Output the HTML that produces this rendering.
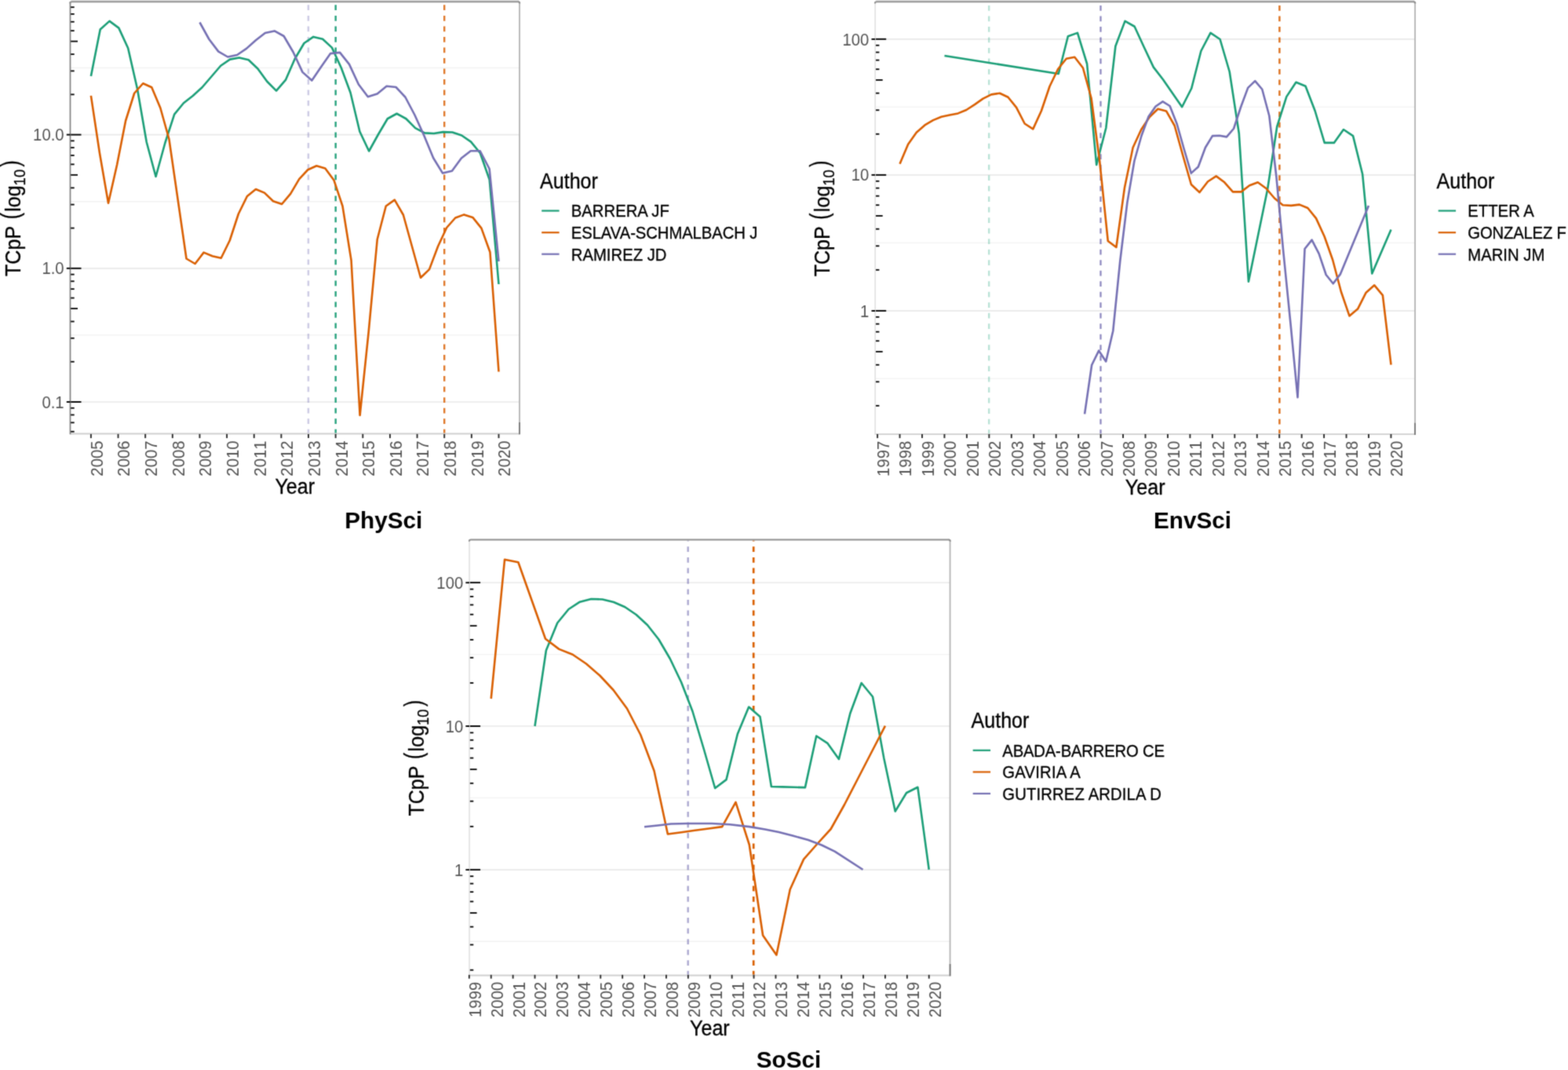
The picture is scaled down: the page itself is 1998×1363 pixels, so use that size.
<!DOCTYPE html>
<html lang="en"><head><meta charset="utf-8"><title>TCpP per author</title>
<style>html,body{margin:0;padding:0;background:#fff;}body{width:1998px;height:1363px;overflow:hidden;}svg{display:block;font-family:"Liberation Sans", "DejaVu Sans", sans-serif;font-kerning:normal;}</style></head><body>
<svg xmlns="http://www.w3.org/2000/svg" width="1998" height="1363" viewBox="0 0 1998 1363">
<defs><filter id="soft" x="0" y="0" width="1998" height="1363" filterUnits="userSpaceOnUse" color-interpolation-filters="sRGB"><feConvolveMatrix order="3" kernelMatrix="1 4 1 4 16 4 1 4 1" edgeMode="duplicate" preserveAlpha="true"/></filter></defs>
<g filter="url(#soft)">
<rect x="0" y="0" width="1998" height="1363" fill="#fff"/>
<g><line x1="89.5" x2="662" y1="256.7" y2="256.7" stroke="#f2f2f2" stroke-width="1.4"/>
<line x1="89.5" x2="662" y1="426.9" y2="426.9" stroke="#f2f2f2" stroke-width="1.4"/>
<line x1="89.5" x2="662" y1="86.5" y2="86.5" stroke="#f2f2f2" stroke-width="1.4"/>
<line x1="89.5" x2="662" y1="171.6" y2="171.6" stroke="#e9e9e9" stroke-width="1.7"/>
<line x1="89.5" x2="662" y1="341.8" y2="341.8" stroke="#e9e9e9" stroke-width="1.7"/>
<line x1="89.5" x2="662" y1="512" y2="512" stroke="#e9e9e9" stroke-width="1.7"/>
<line x1="392.9" x2="392.9" y1="553.4" y2="3.25" stroke="#7570b3" stroke-opacity="0.36" stroke-width="2.5" stroke-dasharray="6.75 6.757" stroke-dashoffset="0"/>
<line x1="427.7" x2="427.7" y1="553.4" y2="3.25" stroke="#1b9e77" stroke-opacity="0.95" stroke-width="2.4" stroke-dasharray="6.75 6.757" stroke-dashoffset="0"/>
<line x1="566.2" x2="566.2" y1="553.4" y2="3.25" stroke="#d95f02" stroke-opacity="0.85" stroke-width="2.4" stroke-dasharray="6.75 6.757" stroke-dashoffset="0"/>
<polyline points="115.9,97 127.71,37.5 139.52,26.9 151.33,35.6 163.14,61.3 174.95,113 186.75,181 198.56,225 210.37,182 222.18,145.6 233.99,131.2 245.8,122 257.61,111.25 269.42,97.5 281.23,83.75 293.04,75.6 304.85,73.5 316.65,76.25 328.46,87.5 340.27,103.75 352.08,115.6 363.89,101.9 375.7,75 387.51,55 399.32,46.9 411.13,49.75 422.94,60.6 434.75,86.25 446.55,118 458.36,167.5 470.17,192.5 481.98,171.25 493.79,151.25 505.6,144.75 517.41,151.25 529.22,163.1 541.03,169.4 552.84,170 564.65,168.1 576.45,168.5 588.26,172.5 600.07,180.6 611.88,195 623.69,228.75 635.5,362" fill="none" stroke="#1b9e77" stroke-width="2.6" stroke-linejoin="round" stroke-linecap="butt"/>
<polyline points="115.9,121.9 126.96,195 138.01,258.75 149.07,210 160.12,153.75 171.18,118.75 182.23,106.25 193.29,111.25 204.34,137.5 215.4,177 226.45,253 237.51,329.5 248.56,336 259.62,321.6 270.67,326.25 281.73,328.75 292.79,306.25 303.84,272.5 314.9,250 325.95,241 337.01,245.6 348.06,256.25 359.12,260 370.17,246.9 381.23,228.1 392.28,216.25 403.34,211.25 414.39,214.4 425.45,229.4 436.5,262.5 447.56,331.5 458.61,529 469.67,423 480.73,305 491.78,262.5 502.84,254.6 513.89,273.75 524.95,313.75 536,353.75 547.06,343.1 558.11,313.75 569.17,290 580.22,277.5 591.28,273.4 602.33,276.9 613.39,290.6 624.44,321.25 635.5,473.5" fill="none" stroke="#d95f02" stroke-width="2.6" stroke-linejoin="round" stroke-linecap="butt"/>
<polyline points="254.5,28.5 266.41,50 278.31,65.6 290.22,72.5 302.12,70 314.03,61.9 325.94,51.25 337.84,41.9 349.75,39.4 361.66,46 373.56,66.25 385.47,91.9 397.38,102.5 409.28,85 421.19,68.1 433.09,66.9 445,81.9 456.91,107.5 468.81,123.3 480.72,119.4 492.62,109.8 504.53,111 516.44,123.75 528.34,146.25 540.25,172.5 552.16,201.25 564.06,220.6 575.97,217.75 587.88,201.5 599.78,192.25 611.69,192.25 623.59,215 635.5,333" fill="none" stroke="#7570b3" stroke-width="2.6" stroke-linejoin="round" stroke-linecap="butt"/>
<line x1="89.5" x2="94.7" y1="549.76" y2="549.76" stroke="#000" stroke-width="1.8"/>
<line x1="89.5" x2="94.7" y1="538.36" y2="538.36" stroke="#000" stroke-width="1.8"/>
<line x1="89.5" x2="94.7" y1="528.49" y2="528.49" stroke="#000" stroke-width="1.8"/>
<line x1="89.5" x2="94.7" y1="519.79" y2="519.79" stroke="#000" stroke-width="1.8"/>
<line x1="89.5" x2="103.5" y1="512" y2="512" stroke="#000" stroke-width="1.9"/>
<line x1="89.5" x2="94.7" y1="460.76" y2="460.76" stroke="#000" stroke-width="1.8"/>
<line x1="89.5" x2="94.7" y1="430.79" y2="430.79" stroke="#000" stroke-width="1.8"/>
<line x1="89.5" x2="94.7" y1="409.53" y2="409.53" stroke="#000" stroke-width="1.8"/>
<line x1="89.5" x2="99" y1="393.04" y2="393.04" stroke="#000" stroke-width="1.8"/>
<line x1="89.5" x2="94.7" y1="379.56" y2="379.56" stroke="#000" stroke-width="1.8"/>
<line x1="89.5" x2="94.7" y1="368.16" y2="368.16" stroke="#000" stroke-width="1.8"/>
<line x1="89.5" x2="94.7" y1="358.29" y2="358.29" stroke="#000" stroke-width="1.8"/>
<line x1="89.5" x2="94.7" y1="349.59" y2="349.59" stroke="#000" stroke-width="1.8"/>
<line x1="89.5" x2="103.5" y1="341.8" y2="341.8" stroke="#000" stroke-width="1.9"/>
<line x1="89.5" x2="94.7" y1="290.56" y2="290.56" stroke="#000" stroke-width="1.8"/>
<line x1="89.5" x2="94.7" y1="260.59" y2="260.59" stroke="#000" stroke-width="1.8"/>
<line x1="89.5" x2="94.7" y1="239.33" y2="239.33" stroke="#000" stroke-width="1.8"/>
<line x1="89.5" x2="99" y1="222.84" y2="222.84" stroke="#000" stroke-width="1.8"/>
<line x1="89.5" x2="94.7" y1="209.36" y2="209.36" stroke="#000" stroke-width="1.8"/>
<line x1="89.5" x2="94.7" y1="197.96" y2="197.96" stroke="#000" stroke-width="1.8"/>
<line x1="89.5" x2="94.7" y1="188.09" y2="188.09" stroke="#000" stroke-width="1.8"/>
<line x1="89.5" x2="94.7" y1="179.39" y2="179.39" stroke="#000" stroke-width="1.8"/>
<line x1="89.5" x2="103.5" y1="171.6" y2="171.6" stroke="#000" stroke-width="1.9"/>
<line x1="89.5" x2="94.7" y1="120.36" y2="120.36" stroke="#000" stroke-width="1.8"/>
<line x1="89.5" x2="94.7" y1="90.39" y2="90.39" stroke="#000" stroke-width="1.8"/>
<line x1="89.5" x2="94.7" y1="69.13" y2="69.13" stroke="#000" stroke-width="1.8"/>
<line x1="89.5" x2="99" y1="52.64" y2="52.64" stroke="#000" stroke-width="1.8"/>
<line x1="89.5" x2="94.7" y1="39.16" y2="39.16" stroke="#000" stroke-width="1.8"/>
<line x1="89.5" x2="94.7" y1="27.76" y2="27.76" stroke="#000" stroke-width="1.8"/>
<line x1="89.5" x2="94.7" y1="17.89" y2="17.89" stroke="#000" stroke-width="1.8"/>
<line x1="89.5" x2="94.7" y1="9.19" y2="9.19" stroke="#000" stroke-width="1.8"/>
<line x1="89.5" x2="662" y1="552.5" y2="552.5" stroke="#cfcfcf" stroke-width="1.8"/>
<line x1="89.5" x2="89.5" y1="2.25" y2="553.3" stroke="#7f7f7f" stroke-width="1.7"/>
<path d="M662,553.3 L662,4.25 Q662,2.25 660,2.25" fill="none" stroke="#b3b3b3" stroke-width="1.8"/>
<path d="M89.2,4.45 Q89.2,2.25 91.5,2.25 L660,2.25 Q662.3,2.25 662.3,4.45" fill="none" stroke="#8e8e8e" stroke-width="1.9"/>
<line x1="90.5" x2="661" y1="0.45" y2="0.45" stroke="#dcdcdc" stroke-width="0.9"/>
<line x1="662" x2="662" y1="538" y2="553.3" stroke="#777" stroke-width="1.8"/>
<line x1="84.8" x2="89.5" y1="171.6" y2="171.6" stroke="#000" stroke-width="1.9"/>
<text transform="translate(81.6,179.2) scale(1,1.13)" text-anchor="end" font-size="20.3" fill="#535353" style="font-kerning:none">10.0</text>
<line x1="84.8" x2="89.5" y1="341.8" y2="341.8" stroke="#000" stroke-width="1.9"/>
<text transform="translate(81.6,349.4) scale(1,1.13)" text-anchor="end" font-size="20.3" fill="#535353" style="font-kerning:none">1.0</text>
<line x1="84.8" x2="89.5" y1="512" y2="512" stroke="#000" stroke-width="1.9"/>
<text transform="translate(81.6,519.6) scale(1,1.13)" text-anchor="end" font-size="20.3" fill="#535353" style="font-kerning:none">0.1</text>
<line x1="115.9" x2="115.9" y1="552.9" y2="558.1" stroke="#2a2a2a" stroke-width="1.9"/>
<text transform="translate(130.8,561.5) rotate(-90) scale(1,1.13)" text-anchor="end" font-size="20.3" fill="#535353" style="font-kerning:none">2005</text>
<line x1="150.54" x2="150.54" y1="552.9" y2="558.1" stroke="#2a2a2a" stroke-width="1.9"/>
<text transform="translate(165.44,561.5) rotate(-90) scale(1,1.13)" text-anchor="end" font-size="20.3" fill="#535353" style="font-kerning:none">2006</text>
<line x1="185.18" x2="185.18" y1="552.9" y2="558.1" stroke="#2a2a2a" stroke-width="1.9"/>
<text transform="translate(200.08,561.5) rotate(-90) scale(1,1.13)" text-anchor="end" font-size="20.3" fill="#535353" style="font-kerning:none">2007</text>
<line x1="219.82" x2="219.82" y1="552.9" y2="558.1" stroke="#2a2a2a" stroke-width="1.9"/>
<text transform="translate(234.72,561.5) rotate(-90) scale(1,1.13)" text-anchor="end" font-size="20.3" fill="#535353" style="font-kerning:none">2008</text>
<line x1="254.46" x2="254.46" y1="552.9" y2="558.1" stroke="#2a2a2a" stroke-width="1.9"/>
<text transform="translate(269.36,561.5) rotate(-90) scale(1,1.13)" text-anchor="end" font-size="20.3" fill="#535353" style="font-kerning:none">2009</text>
<line x1="289.1" x2="289.1" y1="552.9" y2="558.1" stroke="#2a2a2a" stroke-width="1.9"/>
<text transform="translate(304,561.5) rotate(-90) scale(1,1.13)" text-anchor="end" font-size="20.3" fill="#535353" style="font-kerning:none">2010</text>
<line x1="323.74" x2="323.74" y1="552.9" y2="558.1" stroke="#2a2a2a" stroke-width="1.9"/>
<text transform="translate(338.64,561.5) rotate(-90) scale(1,1.13)" text-anchor="end" font-size="20.3" fill="#535353" style="font-kerning:none">2011</text>
<line x1="358.38" x2="358.38" y1="552.9" y2="558.1" stroke="#2a2a2a" stroke-width="1.9"/>
<text transform="translate(373.28,561.5) rotate(-90) scale(1,1.13)" text-anchor="end" font-size="20.3" fill="#535353" style="font-kerning:none">2012</text>
<line x1="393.02" x2="393.02" y1="552.9" y2="558.1" stroke="#2a2a2a" stroke-width="1.9"/>
<text transform="translate(407.92,561.5) rotate(-90) scale(1,1.13)" text-anchor="end" font-size="20.3" fill="#535353" style="font-kerning:none">2013</text>
<line x1="427.66" x2="427.66" y1="552.9" y2="558.1" stroke="#2a2a2a" stroke-width="1.9"/>
<text transform="translate(442.56,561.5) rotate(-90) scale(1,1.13)" text-anchor="end" font-size="20.3" fill="#535353" style="font-kerning:none">2014</text>
<line x1="462.3" x2="462.3" y1="552.9" y2="558.1" stroke="#2a2a2a" stroke-width="1.9"/>
<text transform="translate(477.2,561.5) rotate(-90) scale(1,1.13)" text-anchor="end" font-size="20.3" fill="#535353" style="font-kerning:none">2015</text>
<line x1="496.94" x2="496.94" y1="552.9" y2="558.1" stroke="#2a2a2a" stroke-width="1.9"/>
<text transform="translate(511.84,561.5) rotate(-90) scale(1,1.13)" text-anchor="end" font-size="20.3" fill="#535353" style="font-kerning:none">2016</text>
<line x1="531.58" x2="531.58" y1="552.9" y2="558.1" stroke="#2a2a2a" stroke-width="1.9"/>
<text transform="translate(546.48,561.5) rotate(-90) scale(1,1.13)" text-anchor="end" font-size="20.3" fill="#535353" style="font-kerning:none">2017</text>
<line x1="566.22" x2="566.22" y1="552.9" y2="558.1" stroke="#2a2a2a" stroke-width="1.9"/>
<text transform="translate(581.12,561.5) rotate(-90) scale(1,1.13)" text-anchor="end" font-size="20.3" fill="#535353" style="font-kerning:none">2018</text>
<line x1="600.86" x2="600.86" y1="552.9" y2="558.1" stroke="#2a2a2a" stroke-width="1.9"/>
<text transform="translate(615.76,561.5) rotate(-90) scale(1,1.13)" text-anchor="end" font-size="20.3" fill="#535353" style="font-kerning:none">2019</text>
<line x1="635.5" x2="635.5" y1="552.9" y2="558.1" stroke="#2a2a2a" stroke-width="1.9"/>
<text transform="translate(650.4,561.5) rotate(-90) scale(1,1.13)" text-anchor="end" font-size="20.3" fill="#535353" style="font-kerning:none">2020</text>
<text transform="translate(375.75,629) scale(1,1.1)" text-anchor="middle" font-size="25.1" fill="#000" stroke="#000" stroke-width="0.3" stroke-linejoin="round">Year</text>
<g transform="translate(26,278.38) rotate(-90)"><text transform="translate(-73.6,0) scale(1,1.1)" font-size="25.1" fill="#000" stroke="#000" stroke-width="0.3" stroke-linejoin="round">TCpP</text><text transform="translate(-0.9,-2.3) scale(1,1.078)" font-size="30" fill="#000" stroke="#000" stroke-width="0.3" stroke-linejoin="round" textLength="8.2" lengthAdjust="spacingAndGlyphs">(</text><text transform="translate(8.6,0) scale(1,1.1)" font-size="25.1" fill="#000" stroke="#000" stroke-width="0.3" stroke-linejoin="round">log</text><text transform="translate(42,5.9) scale(1,1.1)" font-size="18.6" fill="#000" stroke="#000" stroke-width="0.3" stroke-linejoin="round" style="font-kerning:none">10</text><text transform="translate(65.9,-2.3) scale(1,1.078)" font-size="30" fill="#000" stroke="#000" stroke-width="0.3" stroke-linejoin="round" textLength="8.2" lengthAdjust="spacingAndGlyphs">)</text></g>
<text transform="translate(488.8,672.9)" text-anchor="middle" font-size="29.7" fill="#000" font-weight="bold" style="font-kerning:none">PhySci</text>
<text transform="translate(688,240.4) scale(1,1.1)" font-size="25.1" fill="#000" stroke="#000" stroke-width="0.3" stroke-linejoin="round">Author</text>
<line x1="690.2" x2="712.6" y1="268.5" y2="268.5" stroke="#1b9e77" stroke-width="2.2"/>
<text transform="translate(727.8,276.4) scale(1,1.13)" font-size="20.3" fill="#000" stroke="#000" stroke-width="0.3" stroke-linejoin="round">BARRERA JF</text>
<line x1="690.2" x2="712.6" y1="296.2" y2="296.2" stroke="#d95f02" stroke-width="2.2"/>
<text transform="translate(727.8,304.1) scale(1,1.13)" font-size="20.3" fill="#000" stroke="#000" stroke-width="0.3" stroke-linejoin="round" textLength="237.71" lengthAdjust="spacing">ESLAVA-SCHMALBACH J</text>
<line x1="690.2" x2="712.6" y1="323.7" y2="323.7" stroke="#7570b3" stroke-width="2.2"/>
<text transform="translate(727.8,331.6) scale(1,1.13)" font-size="20.3" fill="#000" stroke="#000" stroke-width="0.3" stroke-linejoin="round">RAMIREZ JD</text></g>
<g><line x1="1115.2" x2="1803.1" y1="309.37" y2="309.37" stroke="#f2f2f2" stroke-width="1.4"/>
<line x1="1115.2" x2="1803.1" y1="482.39" y2="482.39" stroke="#f2f2f2" stroke-width="1.4"/>
<line x1="1115.2" x2="1803.1" y1="136.33" y2="136.33" stroke="#f2f2f2" stroke-width="1.4"/>
<line x1="1115.2" x2="1803.1" y1="49.9" y2="49.9" stroke="#e9e9e9" stroke-width="1.7"/>
<line x1="1115.2" x2="1803.1" y1="222.85" y2="222.85" stroke="#e9e9e9" stroke-width="1.7"/>
<line x1="1115.2" x2="1803.1" y1="395.95" y2="395.95" stroke="#e9e9e9" stroke-width="1.7"/>
<line x1="1260.2" x2="1260.2" y1="554.1" y2="3.25" stroke="#1b9e77" stroke-opacity="0.3" stroke-width="2.4" stroke-dasharray="6.75 6.757" stroke-dashoffset="0"/>
<line x1="1402.5" x2="1402.5" y1="554.1" y2="3.25" stroke="#7570b3" stroke-opacity="0.85" stroke-width="2.2" stroke-dasharray="6.75 6.757" stroke-dashoffset="0"/>
<line x1="1630.4" x2="1630.4" y1="554.1" y2="3.25" stroke="#d95f02" stroke-opacity="0.9" stroke-width="2.4" stroke-dasharray="6.75 6.757" stroke-dashoffset="0"/>
<polyline points="1203.5,71 1348.78,94 1360.88,46.25 1372.99,41.9 1385.1,81.25 1397.2,210 1409.31,163 1421.41,58.75 1433.52,26.9 1445.63,33.75 1457.73,60 1469.84,85.6 1481.95,101.25 1494.05,118.75 1506.16,136.25 1518.27,112.5 1530.37,65 1542.48,41.9 1554.59,50 1566.69,91.25 1578.8,170 1590.9,358.75 1603.01,300 1615.12,241.25 1627.22,161.25 1639.33,123.1 1651.44,104.75 1663.54,109.75 1675.65,141.25 1687.76,181.9 1699.86,181.9 1711.97,165 1724.07,173.1 1736.18,222 1748.29,348.5 1760.39,320.5 1772.5,292.5" fill="none" stroke="#1b9e77" stroke-width="2.6" stroke-linejoin="round" stroke-linecap="butt"/>
<polyline points="1146.55,208.75 1157.16,183.75 1167.77,168.75 1178.38,159.4 1188.99,153.1 1199.6,148.75 1210.21,146.6 1220.82,144.4 1231.42,140 1242.03,133.1 1252.64,125.6 1263.25,120.4 1273.86,118.75 1284.47,123.75 1295.08,136.9 1305.69,157.5 1316.3,164.4 1326.91,141.25 1337.52,110 1348.13,88 1358.74,74.7 1369.35,72.8 1379.96,86.5 1390.56,125 1401.17,205 1411.78,307 1422.39,315 1433,239 1443.61,188 1454.22,165 1464.83,149 1475.44,138.75 1486.05,141.4 1496.66,160 1507.27,198 1517.88,235 1528.49,245 1539.09,231.25 1549.7,224.4 1560.31,232.3 1570.92,244.4 1581.53,244.4 1592.14,236.25 1602.75,232.25 1613.36,240 1623.97,252.5 1634.58,261.25 1645.19,261.9 1655.8,260.6 1666.41,265 1677.02,278.1 1687.63,301.25 1698.23,331.25 1708.84,371.5 1719.45,402.4 1730.06,393.6 1740.67,372.7 1751.28,363.3 1761.89,376.1 1772.5,464.6" fill="none" stroke="#d95f02" stroke-width="2.6" stroke-linejoin="round" stroke-linecap="butt"/>
<polyline points="1382.1,527.4 1391.15,465 1400.19,446.7 1409.24,460.5 1418.29,421.5 1427.33,332 1436.38,258 1445.43,205 1454.48,173 1463.52,148.5 1472.57,135.5 1481.62,129.4 1490.66,135 1499.71,158 1508.76,190 1517.8,220.6 1526.85,212.5 1535.9,188 1544.95,173.1 1553.99,172.75 1563.04,174.4 1572.09,163.75 1581.13,136.25 1590.18,111.9 1599.23,103.1 1608.27,113.75 1617.32,147.5 1626.37,225 1635.42,322 1644.46,412 1653.51,506.25 1662.56,317 1671.6,305.6 1680.65,323.1 1689.7,350 1698.74,361.25 1707.79,349.4 1743.98,261.9" fill="none" stroke="#7570b3" stroke-width="2.6" stroke-linejoin="round" stroke-linecap="butt"/>
<line x1="1115.2" x2="1120.4" y1="516.82" y2="516.82" stroke="#000" stroke-width="1.8"/>
<line x1="1115.2" x2="1120.4" y1="486.35" y2="486.35" stroke="#000" stroke-width="1.8"/>
<line x1="1115.2" x2="1120.4" y1="464.74" y2="464.74" stroke="#000" stroke-width="1.8"/>
<line x1="1115.2" x2="1124.7" y1="447.97" y2="447.97" stroke="#000" stroke-width="1.8"/>
<line x1="1115.2" x2="1120.4" y1="434.27" y2="434.27" stroke="#000" stroke-width="1.8"/>
<line x1="1115.2" x2="1120.4" y1="422.68" y2="422.68" stroke="#000" stroke-width="1.8"/>
<line x1="1115.2" x2="1120.4" y1="412.65" y2="412.65" stroke="#000" stroke-width="1.8"/>
<line x1="1115.2" x2="1120.4" y1="403.8" y2="403.8" stroke="#000" stroke-width="1.8"/>
<line x1="1115.2" x2="1129.2" y1="395.88" y2="395.88" stroke="#000" stroke-width="1.9"/>
<line x1="1115.2" x2="1120.4" y1="343.79" y2="343.79" stroke="#000" stroke-width="1.8"/>
<line x1="1115.2" x2="1120.4" y1="313.32" y2="313.32" stroke="#000" stroke-width="1.8"/>
<line x1="1115.2" x2="1120.4" y1="291.71" y2="291.71" stroke="#000" stroke-width="1.8"/>
<line x1="1115.2" x2="1124.7" y1="274.94" y2="274.94" stroke="#000" stroke-width="1.8"/>
<line x1="1115.2" x2="1120.4" y1="261.24" y2="261.24" stroke="#000" stroke-width="1.8"/>
<line x1="1115.2" x2="1120.4" y1="249.65" y2="249.65" stroke="#000" stroke-width="1.8"/>
<line x1="1115.2" x2="1120.4" y1="239.62" y2="239.62" stroke="#000" stroke-width="1.8"/>
<line x1="1115.2" x2="1120.4" y1="230.77" y2="230.77" stroke="#000" stroke-width="1.8"/>
<line x1="1115.2" x2="1129.2" y1="222.85" y2="222.85" stroke="#000" stroke-width="1.9"/>
<line x1="1115.2" x2="1120.4" y1="170.76" y2="170.76" stroke="#000" stroke-width="1.8"/>
<line x1="1115.2" x2="1120.4" y1="140.29" y2="140.29" stroke="#000" stroke-width="1.8"/>
<line x1="1115.2" x2="1120.4" y1="118.68" y2="118.68" stroke="#000" stroke-width="1.8"/>
<line x1="1115.2" x2="1124.7" y1="101.91" y2="101.91" stroke="#000" stroke-width="1.8"/>
<line x1="1115.2" x2="1120.4" y1="88.21" y2="88.21" stroke="#000" stroke-width="1.8"/>
<line x1="1115.2" x2="1120.4" y1="76.62" y2="76.62" stroke="#000" stroke-width="1.8"/>
<line x1="1115.2" x2="1120.4" y1="66.59" y2="66.59" stroke="#000" stroke-width="1.8"/>
<line x1="1115.2" x2="1120.4" y1="57.74" y2="57.74" stroke="#000" stroke-width="1.8"/>
<line x1="1115.2" x2="1129.2" y1="49.82" y2="49.82" stroke="#000" stroke-width="1.9"/>
<line x1="1115.2" x2="1803.1" y1="553.2" y2="553.2" stroke="#cfcfcf" stroke-width="1.8"/>
<line x1="1115.2" x2="1115.2" y1="2.25" y2="554" stroke="#e2e2e2" stroke-width="1.7"/>
<path d="M1803.1,554 L1803.1,4.25 Q1803.1,2.25 1801.1,2.25" fill="none" stroke="#b3b3b3" stroke-width="1.8"/>
<path d="M1114.9,4.45 Q1114.9,2.25 1117.2,2.25 L1801.1,2.25 Q1803.4,2.25 1803.4,4.45" fill="none" stroke="#8e8e8e" stroke-width="1.9"/>
<line x1="1116.2" x2="1802.1" y1="0.45" y2="0.45" stroke="#dcdcdc" stroke-width="0.9"/>
<line x1="1803.1" x2="1803.1" y1="538.7" y2="554" stroke="#777" stroke-width="1.8"/>
<line x1="1110.5" x2="1115.2" y1="49.9" y2="49.9" stroke="#000" stroke-width="1.9"/>
<text transform="translate(1107.3,57.5) scale(1,1.13)" text-anchor="end" font-size="20.3" fill="#535353" style="font-kerning:none">100</text>
<line x1="1110.5" x2="1115.2" y1="222.85" y2="222.85" stroke="#000" stroke-width="1.9"/>
<text transform="translate(1107.3,230.45) scale(1,1.13)" text-anchor="end" font-size="20.3" fill="#535353" style="font-kerning:none">10</text>
<line x1="1110.5" x2="1115.2" y1="395.95" y2="395.95" stroke="#000" stroke-width="1.9"/>
<text transform="translate(1107.3,403.55) scale(1,1.13)" text-anchor="end" font-size="20.3" fill="#535353" style="font-kerning:none">1</text>
<line x1="1118.1" x2="1118.1" y1="553" y2="558.1" stroke="#2a2a2a" stroke-width="1.9"/>
<text transform="translate(1133,561.8) rotate(-90) scale(1,1.13)" text-anchor="end" font-size="20.3" fill="#535353" style="font-kerning:none">1997</text>
<line x1="1146.55" x2="1146.55" y1="553" y2="558.1" stroke="#2a2a2a" stroke-width="1.9"/>
<text transform="translate(1161.45,561.8) rotate(-90) scale(1,1.13)" text-anchor="end" font-size="20.3" fill="#535353" style="font-kerning:none">1998</text>
<line x1="1175" x2="1175" y1="553" y2="558.1" stroke="#2a2a2a" stroke-width="1.9"/>
<text transform="translate(1189.9,561.8) rotate(-90) scale(1,1.13)" text-anchor="end" font-size="20.3" fill="#535353" style="font-kerning:none">1999</text>
<line x1="1203.45" x2="1203.45" y1="553" y2="558.1" stroke="#2a2a2a" stroke-width="1.9"/>
<text transform="translate(1218.35,561.8) rotate(-90) scale(1,1.13)" text-anchor="end" font-size="20.3" fill="#535353" style="font-kerning:none">2000</text>
<line x1="1231.9" x2="1231.9" y1="553" y2="558.1" stroke="#2a2a2a" stroke-width="1.9"/>
<text transform="translate(1246.8,561.8) rotate(-90) scale(1,1.13)" text-anchor="end" font-size="20.3" fill="#535353" style="font-kerning:none">2001</text>
<line x1="1260.35" x2="1260.35" y1="553" y2="558.1" stroke="#2a2a2a" stroke-width="1.9"/>
<text transform="translate(1275.25,561.8) rotate(-90) scale(1,1.13)" text-anchor="end" font-size="20.3" fill="#535353" style="font-kerning:none">2002</text>
<line x1="1288.8" x2="1288.8" y1="553" y2="558.1" stroke="#2a2a2a" stroke-width="1.9"/>
<text transform="translate(1303.7,561.8) rotate(-90) scale(1,1.13)" text-anchor="end" font-size="20.3" fill="#535353" style="font-kerning:none">2003</text>
<line x1="1317.25" x2="1317.25" y1="553" y2="558.1" stroke="#2a2a2a" stroke-width="1.9"/>
<text transform="translate(1332.15,561.8) rotate(-90) scale(1,1.13)" text-anchor="end" font-size="20.3" fill="#535353" style="font-kerning:none">2004</text>
<line x1="1345.7" x2="1345.7" y1="553" y2="558.1" stroke="#2a2a2a" stroke-width="1.9"/>
<text transform="translate(1360.6,561.8) rotate(-90) scale(1,1.13)" text-anchor="end" font-size="20.3" fill="#535353" style="font-kerning:none">2005</text>
<line x1="1374.15" x2="1374.15" y1="553" y2="558.1" stroke="#2a2a2a" stroke-width="1.9"/>
<text transform="translate(1389.05,561.8) rotate(-90) scale(1,1.13)" text-anchor="end" font-size="20.3" fill="#535353" style="font-kerning:none">2006</text>
<line x1="1402.6" x2="1402.6" y1="553" y2="558.1" stroke="#2a2a2a" stroke-width="1.9"/>
<text transform="translate(1417.5,561.8) rotate(-90) scale(1,1.13)" text-anchor="end" font-size="20.3" fill="#535353" style="font-kerning:none">2007</text>
<line x1="1431.05" x2="1431.05" y1="553" y2="558.1" stroke="#2a2a2a" stroke-width="1.9"/>
<text transform="translate(1445.95,561.8) rotate(-90) scale(1,1.13)" text-anchor="end" font-size="20.3" fill="#535353" style="font-kerning:none">2008</text>
<line x1="1459.5" x2="1459.5" y1="553" y2="558.1" stroke="#2a2a2a" stroke-width="1.9"/>
<text transform="translate(1474.4,561.8) rotate(-90) scale(1,1.13)" text-anchor="end" font-size="20.3" fill="#535353" style="font-kerning:none">2009</text>
<line x1="1487.95" x2="1487.95" y1="553" y2="558.1" stroke="#2a2a2a" stroke-width="1.9"/>
<text transform="translate(1502.85,561.8) rotate(-90) scale(1,1.13)" text-anchor="end" font-size="20.3" fill="#535353" style="font-kerning:none">2010</text>
<line x1="1516.4" x2="1516.4" y1="553" y2="558.1" stroke="#2a2a2a" stroke-width="1.9"/>
<text transform="translate(1531.3,561.8) rotate(-90) scale(1,1.13)" text-anchor="end" font-size="20.3" fill="#535353" style="font-kerning:none">2011</text>
<line x1="1544.85" x2="1544.85" y1="553" y2="558.1" stroke="#2a2a2a" stroke-width="1.9"/>
<text transform="translate(1559.75,561.8) rotate(-90) scale(1,1.13)" text-anchor="end" font-size="20.3" fill="#535353" style="font-kerning:none">2012</text>
<line x1="1573.3" x2="1573.3" y1="553" y2="558.1" stroke="#2a2a2a" stroke-width="1.9"/>
<text transform="translate(1588.2,561.8) rotate(-90) scale(1,1.13)" text-anchor="end" font-size="20.3" fill="#535353" style="font-kerning:none">2013</text>
<line x1="1601.75" x2="1601.75" y1="553" y2="558.1" stroke="#2a2a2a" stroke-width="1.9"/>
<text transform="translate(1616.65,561.8) rotate(-90) scale(1,1.13)" text-anchor="end" font-size="20.3" fill="#535353" style="font-kerning:none">2014</text>
<line x1="1630.2" x2="1630.2" y1="553" y2="558.1" stroke="#2a2a2a" stroke-width="1.9"/>
<text transform="translate(1645.1,561.8) rotate(-90) scale(1,1.13)" text-anchor="end" font-size="20.3" fill="#535353" style="font-kerning:none">2015</text>
<line x1="1658.65" x2="1658.65" y1="553" y2="558.1" stroke="#2a2a2a" stroke-width="1.9"/>
<text transform="translate(1673.55,561.8) rotate(-90) scale(1,1.13)" text-anchor="end" font-size="20.3" fill="#535353" style="font-kerning:none">2016</text>
<line x1="1687.1" x2="1687.1" y1="553" y2="558.1" stroke="#2a2a2a" stroke-width="1.9"/>
<text transform="translate(1702,561.8) rotate(-90) scale(1,1.13)" text-anchor="end" font-size="20.3" fill="#535353" style="font-kerning:none">2017</text>
<line x1="1715.55" x2="1715.55" y1="553" y2="558.1" stroke="#2a2a2a" stroke-width="1.9"/>
<text transform="translate(1730.45,561.8) rotate(-90) scale(1,1.13)" text-anchor="end" font-size="20.3" fill="#535353" style="font-kerning:none">2018</text>
<line x1="1744" x2="1744" y1="553" y2="558.1" stroke="#2a2a2a" stroke-width="1.9"/>
<text transform="translate(1758.9,561.8) rotate(-90) scale(1,1.13)" text-anchor="end" font-size="20.3" fill="#535353" style="font-kerning:none">2019</text>
<line x1="1772.45" x2="1772.45" y1="553" y2="558.1" stroke="#2a2a2a" stroke-width="1.9"/>
<text transform="translate(1787.35,561.8) rotate(-90) scale(1,1.13)" text-anchor="end" font-size="20.3" fill="#535353" style="font-kerning:none">2020</text>
<text transform="translate(1459.15,629.7) scale(1,1.1)" text-anchor="middle" font-size="25.1" fill="#000" stroke="#000" stroke-width="0.3" stroke-linejoin="round">Year</text>
<g transform="translate(1057,278.73) rotate(-90)"><text transform="translate(-73.6,0) scale(1,1.1)" font-size="25.1" fill="#000" stroke="#000" stroke-width="0.3" stroke-linejoin="round">TCpP</text><text transform="translate(-0.9,-2.3) scale(1,1.078)" font-size="30" fill="#000" stroke="#000" stroke-width="0.3" stroke-linejoin="round" textLength="8.2" lengthAdjust="spacingAndGlyphs">(</text><text transform="translate(8.6,0) scale(1,1.1)" font-size="25.1" fill="#000" stroke="#000" stroke-width="0.3" stroke-linejoin="round">log</text><text transform="translate(42,5.9) scale(1,1.1)" font-size="18.6" fill="#000" stroke="#000" stroke-width="0.3" stroke-linejoin="round" style="font-kerning:none">10</text><text transform="translate(65.9,-2.3) scale(1,1.078)" font-size="30" fill="#000" stroke="#000" stroke-width="0.3" stroke-linejoin="round" textLength="8.2" lengthAdjust="spacingAndGlyphs">)</text></g>
<text transform="translate(1519.5,672.9)" text-anchor="middle" font-size="29.7" fill="#000" font-weight="bold" style="font-kerning:none">EnvSci</text>
<text transform="translate(1830.5,240.4) scale(1,1.1)" font-size="25.1" fill="#000" stroke="#000" stroke-width="0.3" stroke-linejoin="round">Author</text>
<line x1="1832.7" x2="1855.1" y1="268.5" y2="268.5" stroke="#1b9e77" stroke-width="2.2"/>
<text transform="translate(1870.3,276.4) scale(1,1.13)" font-size="20.3" fill="#000" stroke="#000" stroke-width="0.3" stroke-linejoin="round">ETTER A</text>
<line x1="1832.7" x2="1855.1" y1="296.2" y2="296.2" stroke="#d95f02" stroke-width="2.2"/>
<text transform="translate(1870.3,304.1) scale(1,1.13)" font-size="20.3" fill="#000" stroke="#000" stroke-width="0.3" stroke-linejoin="round" textLength="125.64" lengthAdjust="spacing">GONZALEZ F</text>
<line x1="1832.7" x2="1855.1" y1="323.7" y2="323.7" stroke="#7570b3" stroke-width="2.2"/>
<text transform="translate(1870.3,331.6) scale(1,1.13)" font-size="20.3" fill="#000" stroke="#000" stroke-width="0.3" stroke-linejoin="round">MARIN JM</text></g>
<g><line x1="598.1" x2="1210.6" y1="1016.42" y2="1016.42" stroke="#f2f2f2" stroke-width="1.4"/>
<line x1="598.1" x2="1210.6" y1="1199.27" y2="1199.27" stroke="#f2f2f2" stroke-width="1.4"/>
<line x1="598.1" x2="1210.6" y1="833.58" y2="833.58" stroke="#f2f2f2" stroke-width="1.4"/>
<line x1="598.1" x2="1210.6" y1="742.25" y2="742.25" stroke="#e9e9e9" stroke-width="1.7"/>
<line x1="598.1" x2="1210.6" y1="925" y2="925" stroke="#e9e9e9" stroke-width="1.7"/>
<line x1="598.1" x2="1210.6" y1="1107.9" y2="1107.9" stroke="#e9e9e9" stroke-width="1.7"/>
<line x1="876.7" x2="876.7" y1="1243.4" y2="688.5" stroke="#7570b3" stroke-opacity="0.6" stroke-width="2.4" stroke-dasharray="6.75 6.757" stroke-dashoffset="0"/>
<line x1="960.2" x2="960.2" y1="1243.4" y2="688.5" stroke="#d95f02" stroke-opacity="1.0" stroke-width="2.7" stroke-dasharray="6.75 6.757" stroke-dashoffset="0"/>
<polyline points="681.55,925 695.9,828.5 710.25,793.5 724.6,776 738.94,766.7 753.29,763 767.64,763.5 781.99,767 796.34,773.2 810.69,783 825.04,796.3 839.38,814.5 853.73,839 868.08,869 882.43,906 896.78,954 911.13,1004 925.48,993.1 939.82,935 954.17,900.6 968.52,913.1 982.87,1002 997.22,1002.4 1011.57,1002.8 1025.92,1003.1 1040.26,937.5 1054.61,946.9 1068.96,966.9 1083.31,908.75 1097.66,870 1112.01,887.5 1126.36,966 1140.7,1033.5 1155.05,1010 1169.4,1002.75 1183.75,1107.75" fill="none" stroke="#1b9e77" stroke-width="2.6" stroke-linejoin="round" stroke-linecap="butt"/>
<polyline points="625.75,890 643.07,712.7 660.38,716.25 677.7,765 695.02,813.75 712.34,826.9 729.65,833.75 746.97,845.5 764.29,860.5 781.61,879 798.92,902.5 816.24,936 833.56,982 850.87,1062.5 868.19,1060.2 885.51,1057.8 902.83,1055.5 920.14,1053.1 937.46,1021.9 954.78,1076 972.09,1191.5 989.41,1216.5 1006.73,1133 1024.05,1094.6 1041.36,1075 1058.68,1056 1076,1025 1093.32,991.5 1110.63,958 1127.95,924.7" fill="none" stroke="#d95f02" stroke-width="2.6" stroke-linejoin="round" stroke-linecap="butt"/>
<polyline points="821.05,1053.25 838,1051.5 855,1049.5 876,1049 907,1049 930,1050.25 955,1053.1 975,1056.5 992.5,1060 1010,1064.5 1030,1070 1047,1076.5 1063.75,1084.6 1099.5,1107.75" fill="none" stroke="#7570b3" stroke-width="2.6" stroke-linejoin="round" stroke-linecap="butt"/>
<line x1="598.1" x2="603.3" y1="1235.66" y2="1235.66" stroke="#000" stroke-width="1.8"/>
<line x1="598.1" x2="603.3" y1="1203.46" y2="1203.46" stroke="#000" stroke-width="1.8"/>
<line x1="598.1" x2="603.3" y1="1180.61" y2="1180.61" stroke="#000" stroke-width="1.8"/>
<line x1="598.1" x2="607.6" y1="1162.89" y2="1162.89" stroke="#000" stroke-width="1.8"/>
<line x1="598.1" x2="603.3" y1="1148.42" y2="1148.42" stroke="#000" stroke-width="1.8"/>
<line x1="598.1" x2="603.3" y1="1136.17" y2="1136.17" stroke="#000" stroke-width="1.8"/>
<line x1="598.1" x2="603.3" y1="1125.57" y2="1125.57" stroke="#000" stroke-width="1.8"/>
<line x1="598.1" x2="603.3" y1="1116.22" y2="1116.22" stroke="#000" stroke-width="1.8"/>
<line x1="598.1" x2="612.1" y1="1107.85" y2="1107.85" stroke="#000" stroke-width="1.9"/>
<line x1="598.1" x2="603.3" y1="1052.81" y2="1052.81" stroke="#000" stroke-width="1.8"/>
<line x1="598.1" x2="603.3" y1="1020.61" y2="1020.61" stroke="#000" stroke-width="1.8"/>
<line x1="598.1" x2="603.3" y1="997.76" y2="997.76" stroke="#000" stroke-width="1.8"/>
<line x1="598.1" x2="607.6" y1="980.04" y2="980.04" stroke="#000" stroke-width="1.8"/>
<line x1="598.1" x2="603.3" y1="965.57" y2="965.57" stroke="#000" stroke-width="1.8"/>
<line x1="598.1" x2="603.3" y1="953.32" y2="953.32" stroke="#000" stroke-width="1.8"/>
<line x1="598.1" x2="603.3" y1="942.72" y2="942.72" stroke="#000" stroke-width="1.8"/>
<line x1="598.1" x2="603.3" y1="933.37" y2="933.37" stroke="#000" stroke-width="1.8"/>
<line x1="598.1" x2="612.1" y1="925" y2="925" stroke="#000" stroke-width="1.9"/>
<line x1="598.1" x2="603.3" y1="869.96" y2="869.96" stroke="#000" stroke-width="1.8"/>
<line x1="598.1" x2="603.3" y1="837.76" y2="837.76" stroke="#000" stroke-width="1.8"/>
<line x1="598.1" x2="603.3" y1="814.91" y2="814.91" stroke="#000" stroke-width="1.8"/>
<line x1="598.1" x2="607.6" y1="797.19" y2="797.19" stroke="#000" stroke-width="1.8"/>
<line x1="598.1" x2="603.3" y1="782.72" y2="782.72" stroke="#000" stroke-width="1.8"/>
<line x1="598.1" x2="603.3" y1="770.47" y2="770.47" stroke="#000" stroke-width="1.8"/>
<line x1="598.1" x2="603.3" y1="759.87" y2="759.87" stroke="#000" stroke-width="1.8"/>
<line x1="598.1" x2="603.3" y1="750.52" y2="750.52" stroke="#000" stroke-width="1.8"/>
<line x1="598.1" x2="612.1" y1="742.15" y2="742.15" stroke="#000" stroke-width="1.9"/>
<line x1="598.1" x2="1210.6" y1="1242.5" y2="1242.5" stroke="#cfcfcf" stroke-width="1.8"/>
<line x1="598.1" x2="598.1" y1="687.5" y2="1243.3" stroke="#e2e2e2" stroke-width="1.7"/>
<path d="M1210.6,1243.3 L1210.6,689.5 Q1210.6,687.5 1208.6,687.5" fill="none" stroke="#b3b3b3" stroke-width="1.8"/>
<path d="M597.8,689.7 Q597.8,687.5 600.1,687.5 L1208.6,687.5 Q1210.9,687.5 1210.9,689.7" fill="none" stroke="#8e8e8e" stroke-width="1.9"/>
<line x1="1210.6" x2="1210.6" y1="1228" y2="1243.3" stroke="#777" stroke-width="1.8"/>
<line x1="593.4" x2="598.1" y1="742.25" y2="742.25" stroke="#000" stroke-width="1.9"/>
<text transform="translate(590.2,749.85) scale(1,1.13)" text-anchor="end" font-size="20.3" fill="#535353" style="font-kerning:none">100</text>
<line x1="593.4" x2="598.1" y1="925" y2="925" stroke="#000" stroke-width="1.9"/>
<text transform="translate(590.2,932.6) scale(1,1.13)" text-anchor="end" font-size="20.3" fill="#535353" style="font-kerning:none">10</text>
<line x1="593.4" x2="598.1" y1="1107.9" y2="1107.9" stroke="#000" stroke-width="1.9"/>
<text transform="translate(590.2,1115.5) scale(1,1.13)" text-anchor="end" font-size="20.3" fill="#535353" style="font-kerning:none">1</text>
<line x1="597.85" x2="597.85" y1="1241.8" y2="1246.6" stroke="#2a2a2a" stroke-width="1.9"/>
<text transform="translate(612.75,1250.8) rotate(-90) scale(1,1.13)" text-anchor="end" font-size="20.3" fill="#535353" style="font-kerning:none">1999</text>
<line x1="625.75" x2="625.75" y1="1241.8" y2="1246.6" stroke="#2a2a2a" stroke-width="1.9"/>
<text transform="translate(640.65,1250.8) rotate(-90) scale(1,1.13)" text-anchor="end" font-size="20.3" fill="#535353" style="font-kerning:none">2000</text>
<line x1="653.65" x2="653.65" y1="1241.8" y2="1246.6" stroke="#2a2a2a" stroke-width="1.9"/>
<text transform="translate(668.55,1250.8) rotate(-90) scale(1,1.13)" text-anchor="end" font-size="20.3" fill="#535353" style="font-kerning:none">2001</text>
<line x1="681.55" x2="681.55" y1="1241.8" y2="1246.6" stroke="#2a2a2a" stroke-width="1.9"/>
<text transform="translate(696.45,1250.8) rotate(-90) scale(1,1.13)" text-anchor="end" font-size="20.3" fill="#535353" style="font-kerning:none">2002</text>
<line x1="709.45" x2="709.45" y1="1241.8" y2="1246.6" stroke="#2a2a2a" stroke-width="1.9"/>
<text transform="translate(724.35,1250.8) rotate(-90) scale(1,1.13)" text-anchor="end" font-size="20.3" fill="#535353" style="font-kerning:none">2003</text>
<line x1="737.35" x2="737.35" y1="1241.8" y2="1246.6" stroke="#2a2a2a" stroke-width="1.9"/>
<text transform="translate(752.25,1250.8) rotate(-90) scale(1,1.13)" text-anchor="end" font-size="20.3" fill="#535353" style="font-kerning:none">2004</text>
<line x1="765.25" x2="765.25" y1="1241.8" y2="1246.6" stroke="#2a2a2a" stroke-width="1.9"/>
<text transform="translate(780.15,1250.8) rotate(-90) scale(1,1.13)" text-anchor="end" font-size="20.3" fill="#535353" style="font-kerning:none">2005</text>
<line x1="793.15" x2="793.15" y1="1241.8" y2="1246.6" stroke="#2a2a2a" stroke-width="1.9"/>
<text transform="translate(808.05,1250.8) rotate(-90) scale(1,1.13)" text-anchor="end" font-size="20.3" fill="#535353" style="font-kerning:none">2006</text>
<line x1="821.05" x2="821.05" y1="1241.8" y2="1246.6" stroke="#2a2a2a" stroke-width="1.9"/>
<text transform="translate(835.95,1250.8) rotate(-90) scale(1,1.13)" text-anchor="end" font-size="20.3" fill="#535353" style="font-kerning:none">2007</text>
<line x1="848.95" x2="848.95" y1="1241.8" y2="1246.6" stroke="#2a2a2a" stroke-width="1.9"/>
<text transform="translate(863.85,1250.8) rotate(-90) scale(1,1.13)" text-anchor="end" font-size="20.3" fill="#535353" style="font-kerning:none">2008</text>
<line x1="876.85" x2="876.85" y1="1241.8" y2="1246.6" stroke="#2a2a2a" stroke-width="1.9"/>
<text transform="translate(891.75,1250.8) rotate(-90) scale(1,1.13)" text-anchor="end" font-size="20.3" fill="#535353" style="font-kerning:none">2009</text>
<line x1="904.75" x2="904.75" y1="1241.8" y2="1246.6" stroke="#2a2a2a" stroke-width="1.9"/>
<text transform="translate(919.65,1250.8) rotate(-90) scale(1,1.13)" text-anchor="end" font-size="20.3" fill="#535353" style="font-kerning:none">2010</text>
<line x1="932.65" x2="932.65" y1="1241.8" y2="1246.6" stroke="#2a2a2a" stroke-width="1.9"/>
<text transform="translate(947.55,1250.8) rotate(-90) scale(1,1.13)" text-anchor="end" font-size="20.3" fill="#535353" style="font-kerning:none">2011</text>
<line x1="960.55" x2="960.55" y1="1241.8" y2="1246.6" stroke="#2a2a2a" stroke-width="1.9"/>
<text transform="translate(975.45,1250.8) rotate(-90) scale(1,1.13)" text-anchor="end" font-size="20.3" fill="#535353" style="font-kerning:none">2012</text>
<line x1="988.45" x2="988.45" y1="1241.8" y2="1246.6" stroke="#2a2a2a" stroke-width="1.9"/>
<text transform="translate(1003.35,1250.8) rotate(-90) scale(1,1.13)" text-anchor="end" font-size="20.3" fill="#535353" style="font-kerning:none">2013</text>
<line x1="1016.35" x2="1016.35" y1="1241.8" y2="1246.6" stroke="#2a2a2a" stroke-width="1.9"/>
<text transform="translate(1031.25,1250.8) rotate(-90) scale(1,1.13)" text-anchor="end" font-size="20.3" fill="#535353" style="font-kerning:none">2014</text>
<line x1="1044.25" x2="1044.25" y1="1241.8" y2="1246.6" stroke="#2a2a2a" stroke-width="1.9"/>
<text transform="translate(1059.15,1250.8) rotate(-90) scale(1,1.13)" text-anchor="end" font-size="20.3" fill="#535353" style="font-kerning:none">2015</text>
<line x1="1072.15" x2="1072.15" y1="1241.8" y2="1246.6" stroke="#2a2a2a" stroke-width="1.9"/>
<text transform="translate(1087.05,1250.8) rotate(-90) scale(1,1.13)" text-anchor="end" font-size="20.3" fill="#535353" style="font-kerning:none">2016</text>
<line x1="1100.05" x2="1100.05" y1="1241.8" y2="1246.6" stroke="#2a2a2a" stroke-width="1.9"/>
<text transform="translate(1114.95,1250.8) rotate(-90) scale(1,1.13)" text-anchor="end" font-size="20.3" fill="#535353" style="font-kerning:none">2017</text>
<line x1="1127.95" x2="1127.95" y1="1241.8" y2="1246.6" stroke="#2a2a2a" stroke-width="1.9"/>
<text transform="translate(1142.85,1250.8) rotate(-90) scale(1,1.13)" text-anchor="end" font-size="20.3" fill="#535353" style="font-kerning:none">2018</text>
<line x1="1155.85" x2="1155.85" y1="1241.8" y2="1246.6" stroke="#2a2a2a" stroke-width="1.9"/>
<text transform="translate(1170.75,1250.8) rotate(-90) scale(1,1.13)" text-anchor="end" font-size="20.3" fill="#535353" style="font-kerning:none">2019</text>
<line x1="1183.75" x2="1183.75" y1="1241.8" y2="1246.6" stroke="#2a2a2a" stroke-width="1.9"/>
<text transform="translate(1198.65,1250.8) rotate(-90) scale(1,1.13)" text-anchor="end" font-size="20.3" fill="#535353" style="font-kerning:none">2020</text>
<text transform="translate(904.35,1319) scale(1,1.1)" text-anchor="middle" font-size="25.1" fill="#000" stroke="#000" stroke-width="0.3" stroke-linejoin="round">Year</text>
<g transform="translate(540,966) rotate(-90)"><text transform="translate(-73.6,0) scale(1,1.1)" font-size="25.1" fill="#000" stroke="#000" stroke-width="0.3" stroke-linejoin="round">TCpP</text><text transform="translate(-0.9,-2.3) scale(1,1.078)" font-size="30" fill="#000" stroke="#000" stroke-width="0.3" stroke-linejoin="round" textLength="8.2" lengthAdjust="spacingAndGlyphs">(</text><text transform="translate(8.6,0) scale(1,1.1)" font-size="25.1" fill="#000" stroke="#000" stroke-width="0.3" stroke-linejoin="round">log</text><text transform="translate(42,5.9) scale(1,1.1)" font-size="18.6" fill="#000" stroke="#000" stroke-width="0.3" stroke-linejoin="round" style="font-kerning:none">10</text><text transform="translate(65.9,-2.3) scale(1,1.078)" font-size="30" fill="#000" stroke="#000" stroke-width="0.3" stroke-linejoin="round" textLength="8.2" lengthAdjust="spacingAndGlyphs">)</text></g>
<text transform="translate(1005,1360.2)" text-anchor="middle" font-size="29.7" fill="#000" font-weight="bold" style="font-kerning:none">SoSci</text>
<text transform="translate(1237.5,926.9) scale(1,1.1)" font-size="25.1" fill="#000" stroke="#000" stroke-width="0.3" stroke-linejoin="round">Author</text>
<line x1="1239.7" x2="1262.1" y1="955.8" y2="955.8" stroke="#1b9e77" stroke-width="2.2"/>
<text transform="translate(1277.3,963.7) scale(1,1.13)" font-size="20.3" fill="#000" stroke="#000" stroke-width="0.3" stroke-linejoin="round" textLength="206.83" lengthAdjust="spacing">ABADA-BARRERO CE</text>
<line x1="1239.7" x2="1262.1" y1="983.4" y2="983.4" stroke="#d95f02" stroke-width="2.2"/>
<text transform="translate(1277.3,991.3) scale(1,1.13)" font-size="20.3" fill="#000" stroke="#000" stroke-width="0.3" stroke-linejoin="round" textLength="99.4" lengthAdjust="spacing">GAVIRIA A</text>
<line x1="1239.7" x2="1262.1" y1="1010.9" y2="1010.9" stroke="#7570b3" stroke-width="2.2"/>
<text transform="translate(1277.3,1018.8) scale(1,1.13)" font-size="20.3" fill="#000" stroke="#000" stroke-width="0.3" stroke-linejoin="round" textLength="202.69" lengthAdjust="spacing">GUTIRREZ ARDILA D</text></g>
</g></svg></body></html>
